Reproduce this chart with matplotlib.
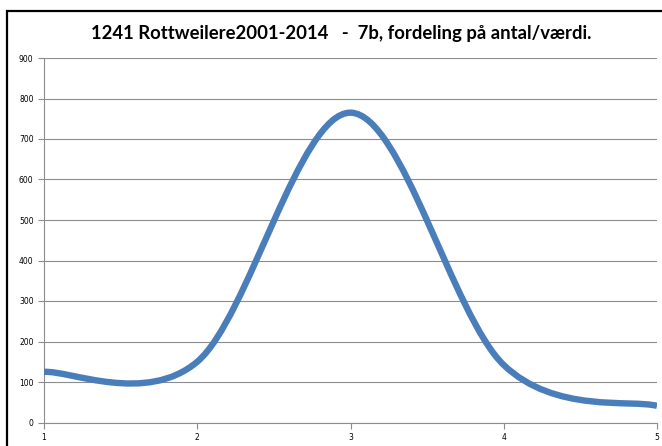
import matplotlib
matplotlib.use("Agg")
import matplotlib.pyplot as plt
from matplotlib.path import Path
from matplotlib.patches import PathPatch, Rectangle

x_vals = [1, 2, 3, 4, 5]
y_vals = [125, 150, 765, 142, 41]
y_ticks = [0, 100, 200, 300, 400, 500, 600, 700, 800, 900]
title = "1241 Rottweilere2001-2014   -  7b, fordeling på antal/værdi."

line_color = "#4a7ebb"
grid_color = "#8c8c8c"


def smooth_path(xs, ys):
    # Excel-style smoothed line: cubic Bezier segments (Catmull-Rom control points)
    pts = list(zip(xs, ys))
    n = len(pts)
    verts = [pts[0]]
    codes = [Path.MOVETO]
    for i in range(n - 1):
        p0 = pts[max(i - 1, 0)]
        p1 = pts[i]
        p2 = pts[i + 1]
        p3 = pts[min(i + 2, n - 1)]
        c1 = (p1[0] + (p2[0] - p0[0]) / 6, p1[1] + (p2[1] - p0[1]) / 6)
        c2 = (p2[0] - (p3[0] - p1[0]) / 6, p2[1] - (p3[1] - p1[1]) / 6)
        verts += [c1, c2, p2]
        codes += [Path.CURVE4] * 3
    return Path(verts, codes)


fig = plt.figure(figsize=(6.62, 4.46), dpi=100)
ax = fig.add_axes([44 / 662, 1 - 422.5 / 446, 613 / 662, 364.5 / 446])

ax.set_xlim(1, 5)
ax.set_ylim(0, 900)
ax.set_xticks(x_vals)
ax.set_yticks(y_ticks)
ax.tick_params(axis="both", labelsize=5.5, colors=grid_color, labelcolor="black",
               length=4, width=0.8)
ax.yaxis.grid(True, color=grid_color, linewidth=0.8)
ax.set_axisbelow(True)
for side in ("top", "right"):
    ax.spines[side].set_visible(False)
for side in ("left", "bottom"):
    ax.spines[side].set_color(grid_color)
    ax.spines[side].set_linewidth(0.8)

patch = PathPatch(smooth_path(x_vals, y_vals), facecolor="none", edgecolor=line_color,
                  linewidth=4.6, capstyle="butt", joinstyle="round", zorder=3)
ax.add_patch(patch)

fig.text(341 / 662, 1 - 33 / 446, title, ha="center", va="center",
         fontsize=13.3, fontweight="bold", family="Lato")

fig.patches.append(Rectangle((7 / 662, -0.05), 1.0, 1 - 11 / 446 + 0.05,
                             transform=fig.transFigure, fill=False,
                             edgecolor="black", linewidth=1.6))

fig.savefig("out.png", dpi=100)
